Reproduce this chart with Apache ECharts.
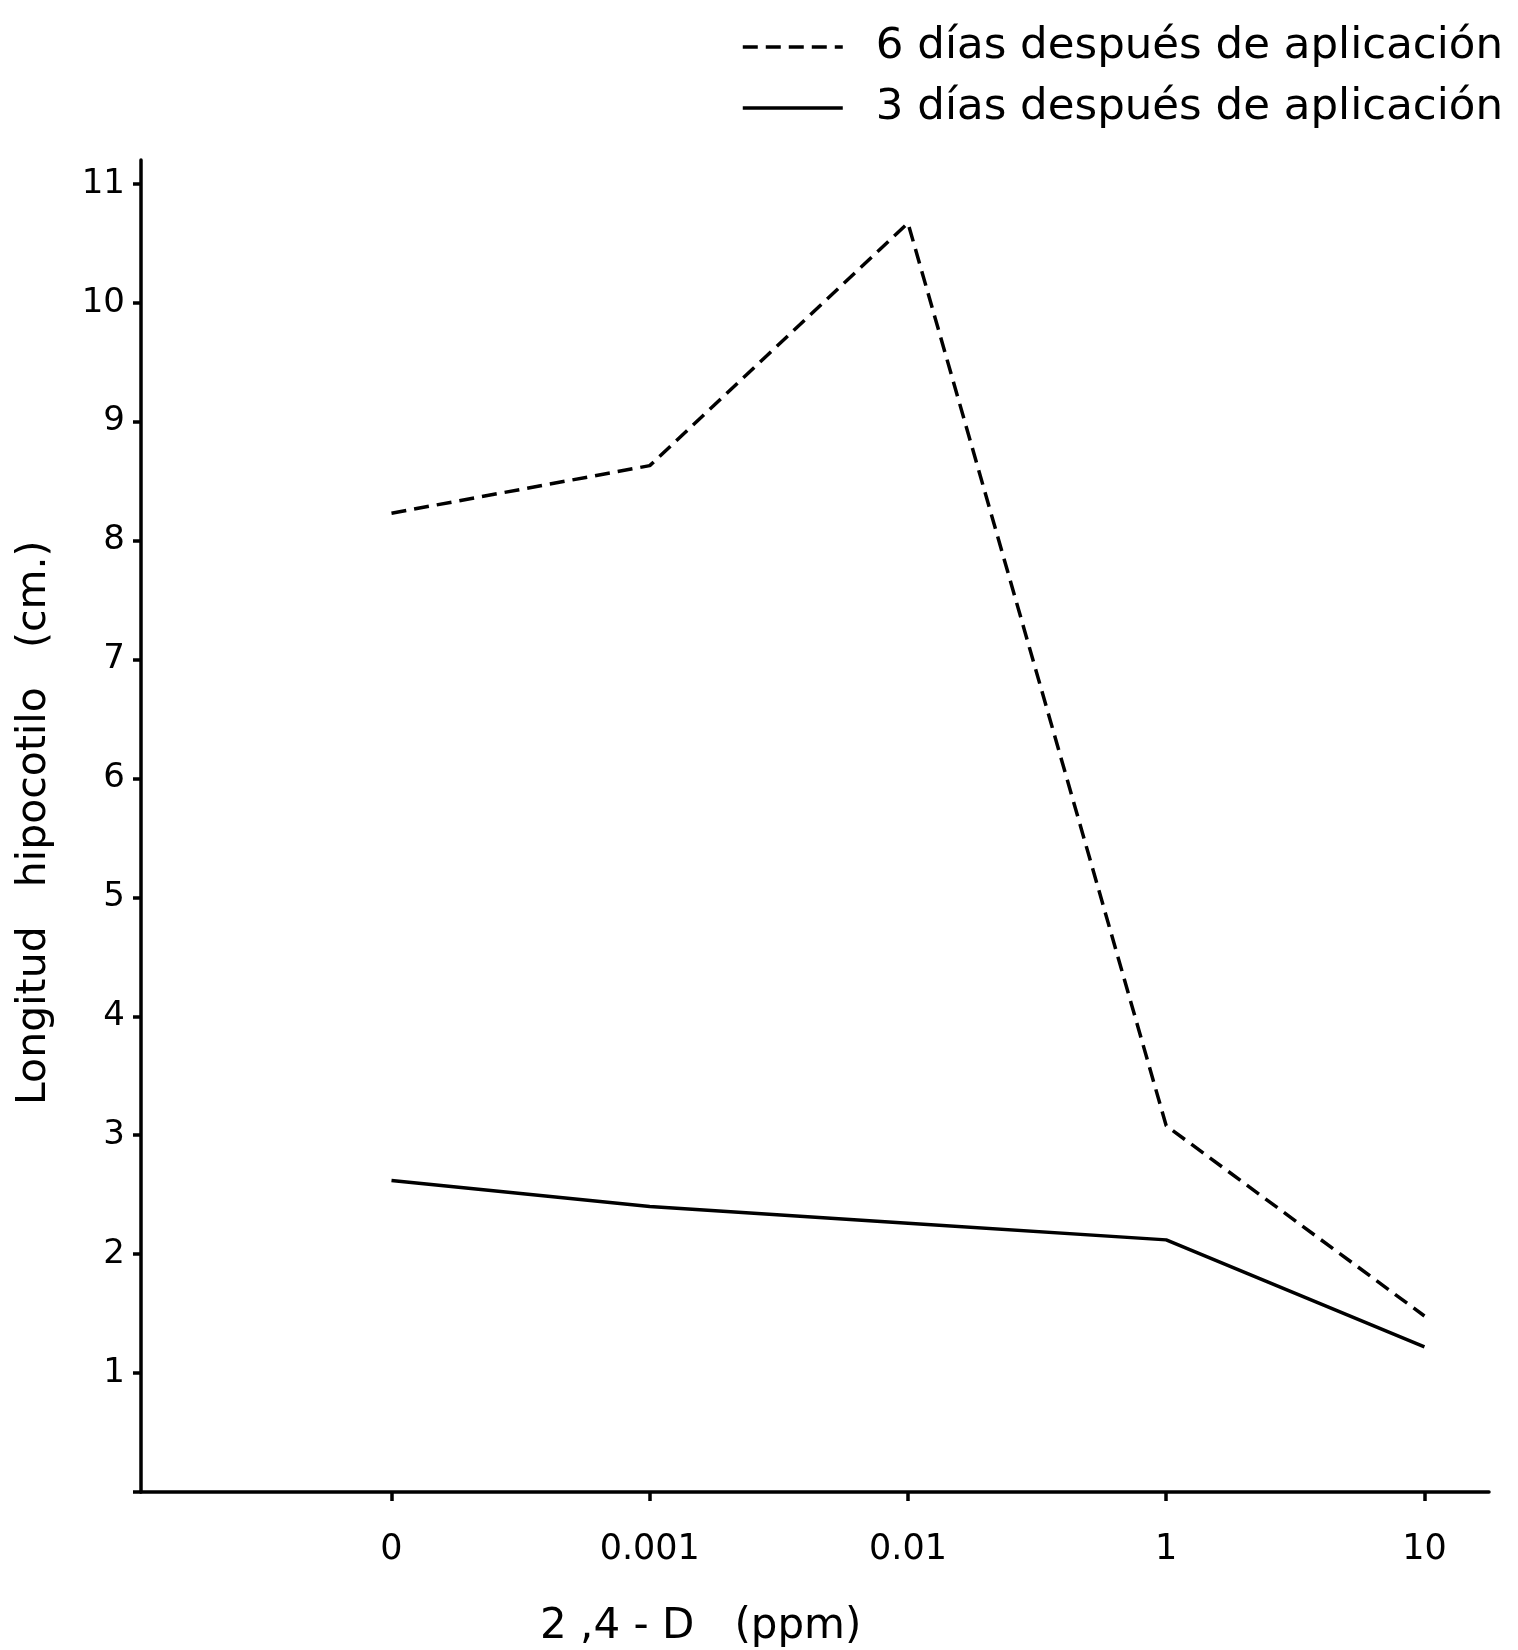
<!DOCTYPE html>
<html>
<head>
<meta charset="utf-8">
<script src="https://cdn.jsdelivr.net/npm/echarts@6/dist/echarts.min.js"></script>
<style>
html,body{margin:0;padding:0;background:#fff;}
#chart{width:1518px;height:1650px;}
</style>
</head>
<body>
<div id="chart"></div>
<script>
// Data
const categories = ['0', '0.001', '0.01', '1', '10'];
const seriesNames = ['6 días después de aplicación', '3 días después de aplicación'];
const dias6 = [8.23, 8.63, 10.67, 3.08, 1.48];
const dias3 = [2.62, 2.40, 2.26, 2.12, 1.22];
const yTicks = [1, 2, 3, 4, 5, 6, 7, 8, 9, 10, 11];

const catIdx = categories.map((c, i) => i);
const toPairs = arr => arr.map((v, i) => [i, v]);

const chart = echarts.init(document.getElementById('chart'), null, {renderer: 'canvas'});
const FONT = 'DejaVu Sans';

chart.setOption({
  backgroundColor: '#ffffff',
  animation: false,
  legend: {
    orient: 'vertical',
    right: 10,
    top: 20,
    itemWidth: 100,
    itemHeight: 14,
    itemGap: 17,
    data: seriesNames,
    itemStyle: {opacity: 0},
    lineStyle: {width: 3.5},
    textStyle: {fontFamily: FONT, fontSize: 43.5, color: '#000', padding: [0, 0, 0, 28]}
  },
  grid: {left: 141, right: 29, top: 160, bottom: 158, containLabel: false},
  xAxis: {
    type: 'value',
    min: -0.97,
    max: 4.25,
    splitLine: {show: false},
    axisLine: {show: true, onZero: false, lineStyle: {color: '#000', width: 3.5}},
    axisTick: {show: true, customValues: catIdx, length: 9, lineStyle: {color: '#000', width: 3.5}},
    axisLabel: {
      customValues: catIdx,
      formatter: v => categories[Math.round(v)],
      fontFamily: FONT, fontSize: 35, color: '#000', margin: 40
    }
  },
  yAxis: {
    type: 'value',
    min: 0,
    max: 11.2,
    splitLine: {show: false},
    axisLine: {show: true, onZero: false, lineStyle: {color: '#000', width: 3.5}},
    axisTick: {show: true, customValues: [0].concat(yTicks), length: 8, lineStyle: {color: '#000', width: 3.5}},
    axisLabel: {
      customValues: yTicks,
      fontFamily: FONT, fontSize: 34, color: '#000', margin: 16
    }
  },
  graphic: [
    {
      type: 'text',
      rotation: Math.PI / 2,
      style: {
        text: 'Longitud   hipocotilo   (cm.)',
        fontFamily: FONT, fontSize: 41, fill: '#000'
      },
      x: 14, y: 1105
    },
    {
      type: 'text',
      left: 540,
      top: 1606,
      style: {
        text: '2 ,4 - D   (ppm)',
        fontFamily: FONT, fontSize: 42, fill: '#000'
      }
    }
  ],
  series: [
    {
      name: seriesNames[0],
      type: 'line',
      data: toPairs(dias6),
      symbol: 'none',
      lineStyle: {color: '#000', width: 3.5, type: [15, 8]},
      itemStyle: {color: '#000'}
    },
    {
      name: seriesNames[1],
      type: 'line',
      data: toPairs(dias3),
      symbol: 'none',
      lineStyle: {color: '#000', width: 3.5, type: 'solid'},
      itemStyle: {color: '#000'}
    }
  ]
});
</script>
</body>
</html>
